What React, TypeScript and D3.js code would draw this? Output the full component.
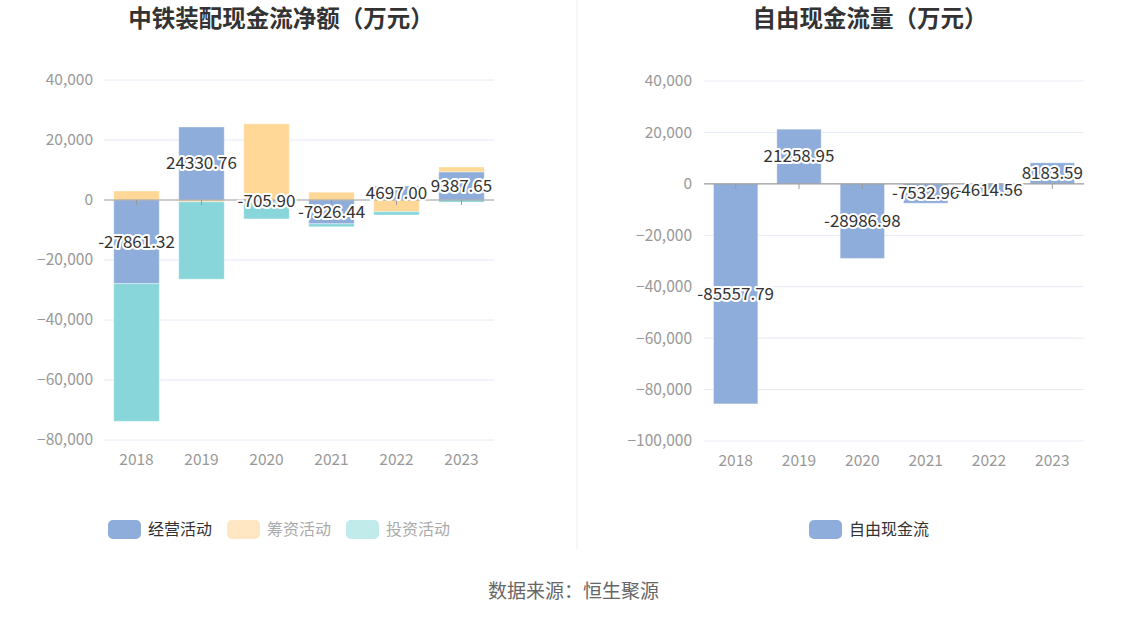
import React from 'react';
import * as d3 from 'd3';

const years = ['2018', '2019', '2020', '2021', '2022', '2023'];
const operating = [-27861.32, 24330.76, -705.9, -7926.44, 4697.0, 9387.65];
const financing = [3000, -600, 25400, 2600, -3900, 1600];
const investing = [-45900, -25800, -5600, -1000, -1100, -700];
const freeCash = [-85557.79, 21258.95, -28986.98, -7532.96, -4614.56, 8183.59];
const leftTicks = [40000, 20000, 0, -20000, -40000, -60000, -80000];
const rightTicks = [40000, 20000, 0, -20000, -40000, -60000, -80000, -100000];

const BLUE = '#8eaddb';
const ORANGE = '#ffd898';
const TEAL = '#88d6d9';
const FONT = '"Noto Sans CJK SC", "Noto Sans", sans-serif';

const fmt = d3.format(',');

type Row = { year: string; operating: number; financing: number; investing: number };

const rows: Row[] = years.map((year, i) => ({
  year,
  operating: operating[i],
  financing: financing[i],
  investing: investing[i],
}));

const seriesKeys = ['operating', 'financing', 'investing'];
const seriesColors: Record<string, string> = { operating: BLUE, financing: ORANGE, investing: TEAL };

const Axes = ({ x, y, ticks, labelX }: { x: d3.ScaleBand<string>; y: d3.ScaleLinear<number, number>; ticks: number[]; labelX: number }) => {
  const [x0, x1] = x.range();
  return (
    <g>
      {ticks.map(t => (
        <g key={t}>
          {t !== 0 && <line x1={x0} x2={x1} y1={y(t)} y2={y(t)} stroke="#e6eaf3" strokeWidth={1} />}
          <text x={labelX} y={y(t)} dy="0.35em" textAnchor="end" fontSize={15.5} fill="#999" fontFamily={FONT}>
            {fmt(t)}
          </text>
        </g>
      ))}
      {years.map(yr => (
        <text key={yr} x={x(yr)! + x.bandwidth() / 2} y={y.range()[0] + 20} dy="0.35em" textAnchor="middle" fontSize={15.5} fill="#999" fontFamily={FONT}>
          {yr}
        </text>
      ))}
    </g>
  );
};

const ZeroLine = ({ x, y }: { x: d3.ScaleBand<string>; y: d3.ScaleLinear<number, number> }) => {
  const [x0, x1] = x.range();
  return (
    <g>
      <line x1={x0} x2={x1} y1={y(0)} y2={y(0)} stroke="#9a9a9a" strokeWidth={1.2} />
      {years.map(yr => {
        const cx = x(yr)! + x.bandwidth() / 2;
        return <line key={yr} x1={cx} x2={cx} y1={y(0)} y2={y(0) + 5} stroke="#9a9a9a" strokeWidth={1} />;
      })}
    </g>
  );
};

const Label = ({ x, y, text }: { x: number; y: number; text: string }) => (
  <text
    x={x}
    y={y}
    dy="0.35em"
    textAnchor="middle"
    fontSize={17}
    fill="#333"
    stroke="#fff"
    strokeWidth={4}
    paintOrder="stroke"
    strokeLinejoin="round"
    fontFamily={FONT}
  >
    {text}
  </text>
);

const LegendItem = ({ x, color, text, textColor }: { x: number; color: string; text: string; textColor: string }) => (
  <g>
    <rect x={x} y={520} width={33} height={19} rx={5} fill={color} />
    <text x={x + 40} y={529.5} dy="0.35em" fontSize={16} fill={textColor} fontFamily={FONT}>
      {text}
    </text>
  </g>
);

export default function App() {
  // left chart: stacked cash flows (positive and negative stacked apart)
  const xL = d3.scaleBand<string>().domain(years).range([104, 494]).paddingInner(0.3).paddingOuter(0.15);
  const yL = d3.scaleLinear().domain([-80000, 40000]).range([440, 80]);
  const stacked = d3.stack<Row>().keys(seriesKeys).offset(d3.stackOffsetDiverging)(rows);

  // right chart: free cash flow
  const xR = d3.scaleBand<string>().domain(years).range([704, 1084]).paddingInner(0.3).paddingOuter(0.15);
  const yR = d3.scaleLinear().domain([-100000, 40000]).range([441, 81]);

  return (
    <svg width={1148} height={619} style={{ position: 'absolute', left: 0, top: 0, background: '#fff' }}>
      <rect width={1148} height={619} fill="#fff" />
      <text x={281} y={27} textAnchor="middle" fontSize={23.5} fontWeight="bold" fill="#333" fontFamily={FONT}>
        中铁装配现金流净额（万元）
      </text>
      <text x={870} y={27} textAnchor="middle" fontSize={23.5} fontWeight="bold" fill="#333" fontFamily={FONT}>
        自由现金流量（万元）
      </text>
      <line x1={577} x2={577} y1={0} y2={549} stroke="#eeeeee" strokeWidth={1} />

      <Axes x={xL} y={yL} ticks={leftTicks} labelX={93} />
      {stacked.map(s => (
        <g key={s.key}>
          {s.map((d, i) => (
            <rect
              key={i}
              x={xL(years[i])}
              width={xL.bandwidth()}
              y={yL(Math.max(d[0], d[1]))}
              height={Math.abs(yL(d[0]) - yL(d[1]))}
              fill={seriesColors[s.key]}
              stroke="#fff"
              strokeOpacity={0.35}
              strokeWidth={1}
            />
          ))}
        </g>
      ))}
      <ZeroLine x={xL} y={yL} />
      {stacked[0].map((d, i) => (
        <Label key={i} x={xL(years[i])! + xL.bandwidth() / 2} y={yL((d[0] + d[1]) / 2)} text={operating[i].toFixed(2)} />
      ))}

      <Axes x={xR} y={yR} ticks={rightTicks} labelX={692} />
      {freeCash.map((v, i) => (
        <rect
          key={i}
          x={xR(years[i])}
          width={xR.bandwidth()}
          y={yR(Math.max(0, v))}
          height={Math.abs(yR(v) - yR(0))}
          fill={BLUE}
          stroke="#fff"
          strokeOpacity={0.35}
          strokeWidth={1}
        />
      ))}
      <ZeroLine x={xR} y={yR} />
      {freeCash.map((v, i) => (
        <Label key={i} x={xR(years[i])! + xR.bandwidth() / 2} y={yR(v / 2)} text={v.toFixed(2)} />
      ))}

      <LegendItem x={108} color={BLUE} text="经营活动" textColor="#333" />
      <LegendItem x={227} color="#ffe7c4" text="筹资活动" textColor="#aaa" />
      <LegendItem x={346} color="#c1eaea" text="投资活动" textColor="#aaa" />
      <LegendItem x={809} color={BLUE} text="自由现金流" textColor="#333" />

      <text x={488} y={591} dy="0.35em" fontSize={19} fill="#666" fontFamily={FONT}>
        数据来源：恒生聚源
      </text>
    </svg>
  );
}
